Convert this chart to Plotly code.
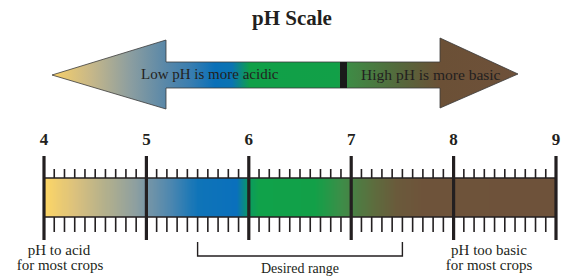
import numpy as np
import plotly.graph_objects as go

# ---- data ----
ph_major = [4, 5, 6, 7, 8, 9]
ph_major_labels = ["4", "5", "6", "7", "8", "9"]
ph_minor = [round(4 + 0.1 * i, 1) for i in range(51) if i % 10 != 0]
desired_range = [5.5, 7.5]

bar_stop_ph = [4.0, 4.3, 4.6, 4.9, 5.05, 5.25, 5.5, 5.88, 6.0, 6.1, 6.65, 6.9, 7.2, 7.45, 7.7, 9.0]
bar_stop_color = ["#fed765", "#dbc17d", "#b3b08c", "#8d9fa0", "#6f93a8", "#4a86b0",
                  "#0f74b8", "#0a70bc", "#0a9a60", "#10a24a", "#12a048", "#3c8e48",
                  "#5c6e3e", "#6a5a3b", "#6e533a", "#6e523a"]

arrow_stop_px = [52, 90, 130, 165, 190, 215, 232, 250, 338, 350, 400, 440, 518]
arrow_stop_color = ["#f8d068", "#c8b888", "#8c9ea0", "#5a88a8", "#3a7eb0", "#0a70b8",
                    "#0a74b2", "#10a048", "#12a048", "#3f8a45", "#55683c", "#6b5036",
                    "#6e513a"]

INK = "#231f20"
SERIF = "Liberation Serif"

# ---- geometry (pixel layout) ----
W, H = 561, 280
X4, X9 = 44, 556
k = (X9 - X4) / 5.0
x_range = [4 - X4 / k, 4 + (W - X4) / k]

fig = go.Figure()

# gradient bar
N = 500
edges = np.linspace(4, 9, N + 1)
mids = (edges[:-1] + edges[1:]) / 2
cs = [[(p - 4) / 5, c] for p, c in zip(bar_stop_ph, bar_stop_color)]
fig.add_trace(go.Heatmap(x=edges, y=[178, 217], z=[mids], colorscale=cs,
                         zmin=4, zmax=9, showscale=False, hoverinfo="skip",
                         xaxis="x", yaxis="y"))
# bar outline
fig.add_trace(go.Scatter(x=[4, 9, 9, 4, 4], y=[178, 178, 217, 217, 178], mode="lines",
                         line=dict(color=INK, width=1.5), hoverinfo="skip",
                         showlegend=False))

# minor ticks
mx, my_top, my_bot = [], [], []
for p in ph_minor:
    mx += [p, p, None]
    my_top += [169, 178, None]
    my_bot += [217, 232, None]
fig.add_trace(go.Scatter(x=mx, y=my_top, mode="lines", line=dict(color=INK, width=1.6),
                         hoverinfo="skip", showlegend=False))
fig.add_trace(go.Scatter(x=mx, y=my_bot, mode="lines", line=dict(color=INK, width=1.6),
                         hoverinfo="skip", showlegend=False))
# major ticks
jx, jy = [], []
for p in ph_major:
    jx += [p, p, None]
    jy += [156, 240, None]
fig.add_trace(go.Scatter(x=jx, y=jy, mode="lines", line=dict(color=INK, width=3.2),
                         hoverinfo="skip", showlegend=False))
# major labels
fig.add_trace(go.Scatter(x=ph_major, y=[141] * 6, mode="text", text=ph_major_labels,
                         textfont=dict(family=SERIF, size=17, color=INK, weight="bold"),
                         hoverinfo="skip", showlegend=False))

# desired range bracket
a, b = desired_range
fig.add_trace(go.Scatter(x=[a, a, b, b], y=[242, 256, 256, 242], mode="lines",
                         line=dict(color=INK, width=1.4), hoverinfo="skip",
                         showlegend=False))
fig.add_trace(go.Scatter(x=[(a + b) / 2], y=[269], mode="text", text=["Desired range"],
                         textfont=dict(family=SERIF, size=14, color=INK),
                         hoverinfo="skip", showlegend=False))

# double arrow (pixel axis x2)
arrow_x = [52, 166, 166, 440, 440, 518, 440, 440, 166, 166, 52]
arrow_y = [75, 40, 62, 62, 38, 74, 108, 88, 88, 109, 75]
acs = [[(p - 52) / (518 - 52), c] for p, c in zip(arrow_stop_px, arrow_stop_color)]
fig.add_trace(go.Scatter(x=arrow_x, y=arrow_y, mode="lines", fill="toself",
                         fillgradient=dict(type="horizontal", colorscale=acs,
                                           start=52, stop=518),
                         line=dict(color="#3a3a3a", width=0.8), hoverinfo="skip",
                         showlegend=False, xaxis="x2", yaxis="y"))
fig.add_shape(type="rect", xref="x2", yref="y", x0=340, x1=347, y0=62, y1=88,
              fillcolor="#1a1a1a", line=dict(width=0))

fig.add_annotation(xref="x2", yref="y", x=210, y=74, text="Low pH is more acidic",
                   showarrow=False, font=dict(family=SERIF, size=15, color=INK))
fig.add_annotation(xref="x2", yref="y", x=431, y=74, text="High pH is more basic",
                   showarrow=False, font=dict(family=SERIF, size=15.5, color=INK))
fig.add_annotation(xref="x2", yref="y", x=292, y=18, text="<b>pH Scale</b>",
                   showarrow=False, font=dict(family=SERIF, size=21, color=INK))
side_text = ["pH to acid", "for most crops", "pH too basic", "for most crops"]
fig.add_trace(go.Scatter(x=[59, 60, 489, 489], y=[251, 266.5, 251, 266.5], mode="text",
                         text=side_text, xaxis="x2", yaxis="y",
                         textfont=dict(family=SERIF, size=15, color=INK),
                         hoverinfo="skip", showlegend=False))

fig.update_layout(
    width=W, height=H, margin=dict(l=0, r=0, t=0, b=0),
    paper_bgcolor="white", plot_bgcolor="white", showlegend=False,
    xaxis=dict(range=x_range, visible=False, fixedrange=True),
    xaxis2=dict(range=[0, W], visible=False, overlaying="x", fixedrange=True),
    yaxis=dict(range=[H, 0], visible=False, fixedrange=True),
)
fig.write_html("out.html", config={"staticPlot": True},
               post_script="document.body.style.margin='0';document.body.style.overflow='hidden';")
